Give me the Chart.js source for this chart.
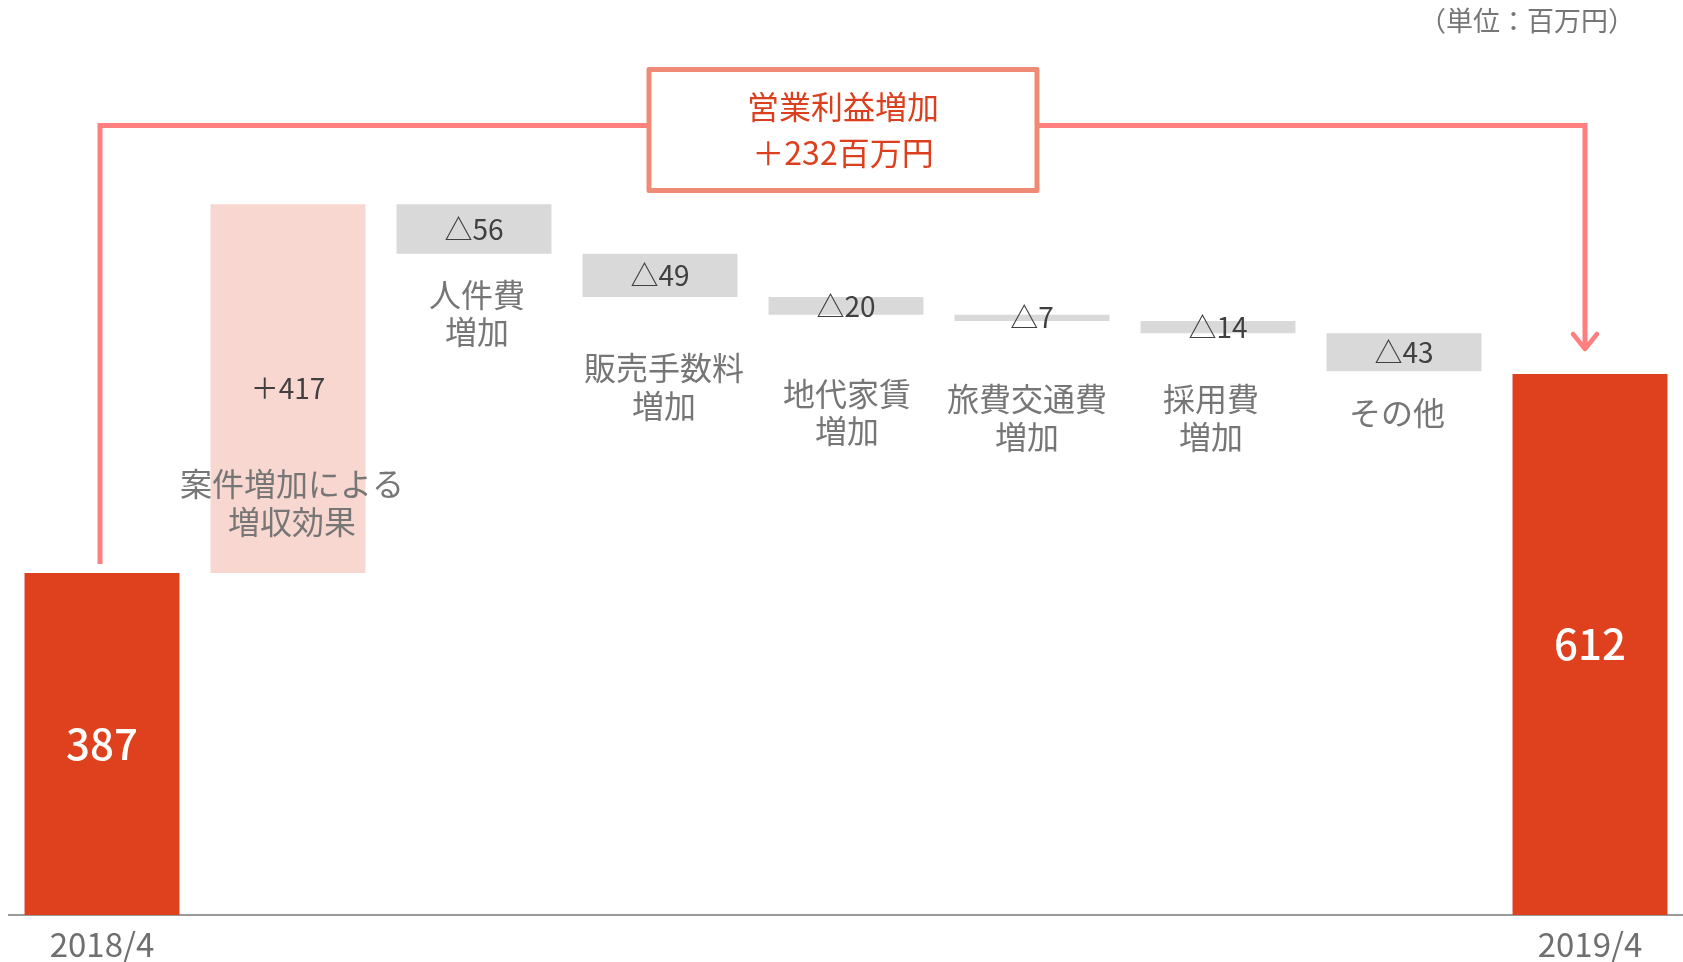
<!DOCTYPE html>
<html lang="ja">
<head>
<meta charset="utf-8">
<title>営業利益増減</title>
<script src="https://cdn.jsdelivr.net/npm/chart.js@4.4.1/dist/chart.umd.min.js"></script>
<style>
  html, body { margin: 0; padding: 0; background: #fff; }
  #wrap { width: 1683px; height: 962px; position: relative; }
</style>
</head>
<body>
<div id="wrap"><canvas id="waterfall"></canvas></div>
<script>
// 営業利益の増減（単位：百万円）
var categories = ['2018/4', '案件増加による増収効果', '人件費増加', '販売手数料増加', '地代家賃増加', '旅費交通費増加', '採用費増加', 'その他', '2019/4'];
var categoryLines = [[], ['案件増加による', '増収効果'], ['人件費', '増加'], ['販売手数料', '増加'], ['地代家賃', '増加'], ['旅費交通費', '増加'], ['採用費', '増加'], ['その他'], []];
var tickLabels = ['2018/4', '', '', '', '', '', '', '', '2019/4'];
var startValue = 387;
var endValue = 612;
var changes = [417, -56, -49, -20, -7, -14, -43];
var totalIncrease = 232;

var FONT = "'Noto Sans CJK JP', 'Noto Sans', sans-serif";
var RED = '#DF411E';

// floating bars: [from, to]
var bars = [[0, startValue]];
var level = startValue;
changes.forEach(function (c) {
    bars.push([level, level + c]);
    level += c;
});
bars.push([0, endValue]);

var barColors = bars.map(function (b, i) {
    if (i === 0 || i === bars.length - 1) return RED;
    return changes[i - 1] > 0 ? '#F8D7D1' : '#D9D9D9';
});

function valueText(i) {
    if (i === 0) return String(startValue);
    if (i === bars.length - 1) return String(endValue);
    var c = changes[i - 1];
    return (c > 0 ? '＋' : '△') + Math.abs(c);
}

// distance (px) from bar bottom to first label line, and small sideways nudge
var labelOffsets = [0, -89, 41, 71, 79, 78, 66, 42, 0];
var labelShift = [0, 4, 3, 4, 1, -5, -7, -7, 0];

var annotate = {
    id: 'annotate',
    afterDatasetsDraw: function (chart) {
        var ctx = chart.ctx;
        var meta = chart.getDatasetMeta(0);
        var area = chart.chartArea;
        ctx.save();
        ctx.textAlign = 'center';
        ctx.textBaseline = 'middle';

        meta.data.forEach(function (bar, i) {
            var mid = (bar.y + bar.base) / 2;
            var bottom = Math.max(bar.y, bar.base);
            var total = (i === 0 || i === bars.length - 1);
            ctx.fillStyle = total ? '#ffffff' : '#404040';
            ctx.font = (total ? '500 42px ' : '28px ') + FONT;
            ctx.fillText(valueText(i), bar.x, mid);

            ctx.fillStyle = '#767676';
            ctx.font = '32px ' + FONT;
            categoryLines[i].forEach(function (line, k) {
                ctx.fillText(line, bar.x + labelShift[i], bottom + labelOffsets[i] + k * 37.5);
            });
        });

        // connector from 2018/4 to 2019/4
        var a = meta.data[0], b = meta.data[bars.length - 1];
        var topA = Math.min(a.y, a.base) - 9;
        var topB = Math.min(b.y, b.base) - 25;
        var lineY = chart.scales.y.getPixelForValue(893);
        var cx = (area.left + area.right) / 2 - 3;
        var boxW = 388, boxH = 121;
        var boxL = cx - boxW / 2, boxT = lineY - 56;

        ctx.strokeStyle = '#FF7F7F';
        ctx.lineWidth = 5;
        ctx.lineJoin = 'miter';
        ctx.beginPath();
        ctx.moveTo(a.x - 2, topA);
        ctx.lineTo(a.x - 2, lineY);
        ctx.lineTo(boxL, lineY);
        ctx.moveTo(boxL + boxW, lineY);
        ctx.lineTo(b.x - 5, lineY);
        ctx.lineTo(b.x - 5, topB);
        ctx.stroke();
        ctx.lineCap = 'round';
        ctx.lineJoin = 'round';
        ctx.lineWidth = 4.5;
        ctx.beginPath();
        ctx.moveTo(b.x - 17, topB - 15);
        ctx.lineTo(b.x - 5, topB);
        ctx.lineTo(b.x + 7, topB - 15);
        ctx.stroke();

        ctx.fillStyle = '#ffffff';
        ctx.fillRect(boxL, boxT, boxW, boxH);
        ctx.strokeStyle = '#EE8A75';
        ctx.lineWidth = 5;
        ctx.strokeRect(boxL, boxT, boxW, boxH);
        ctx.fillStyle = '#DC3F1E';
        ctx.font = '32px ' + FONT;
        ctx.fillText('営業利益増加', cx, boxT + 37);
        ctx.fillText('＋' + totalIncrease + '百万円', cx, boxT + 83);

        ctx.textAlign = 'left';
        ctx.fillStyle = '#767676';
        ctx.font = '27px ' + FONT;
        ctx.fillText('（単位：百万円）', 1419, 21);
        ctx.restore();
    }
};

var ctx = document.getElementById('waterfall').getContext('2d');
var chart = new Chart(ctx, {
    type: 'bar',
    data: {
        labels: categories,
        datasets: [{
            data: bars,
            backgroundColor: barColors,
            borderWidth: 0,
            barPercentage: 0.833,
            categoryPercentage: 1
        }]
    },
    options: {
        responsive: true,
        maintainAspectRatio: false,
        animation: false,
        layout: { padding: { top: 31, left: 9, right: 0, bottom: 0 } },
        plugins: {
            legend: { display: false },
            tooltip: { enabled: false }
        },
        scales: {
            x: {
                grid: { display: false },
                border: { display: true, color: '#9A9A9A', width: 2 },
                ticks: {
                    color: '#6F6F6F',
                    font: { family: FONT, size: 33 },
                    padding: 2,
                    maxRotation: 0,
                    autoSkip: false,
                    callback: function (v, i) { return tickLabels[i]; }
                },
                afterFit: function (scale) { scale.height = 47; }
            },
            y: {
                display: false,
                min: 0,
                max: 1000
            }
        }
    },
    plugins: [annotate]
});
</script>
</body>
</html>
